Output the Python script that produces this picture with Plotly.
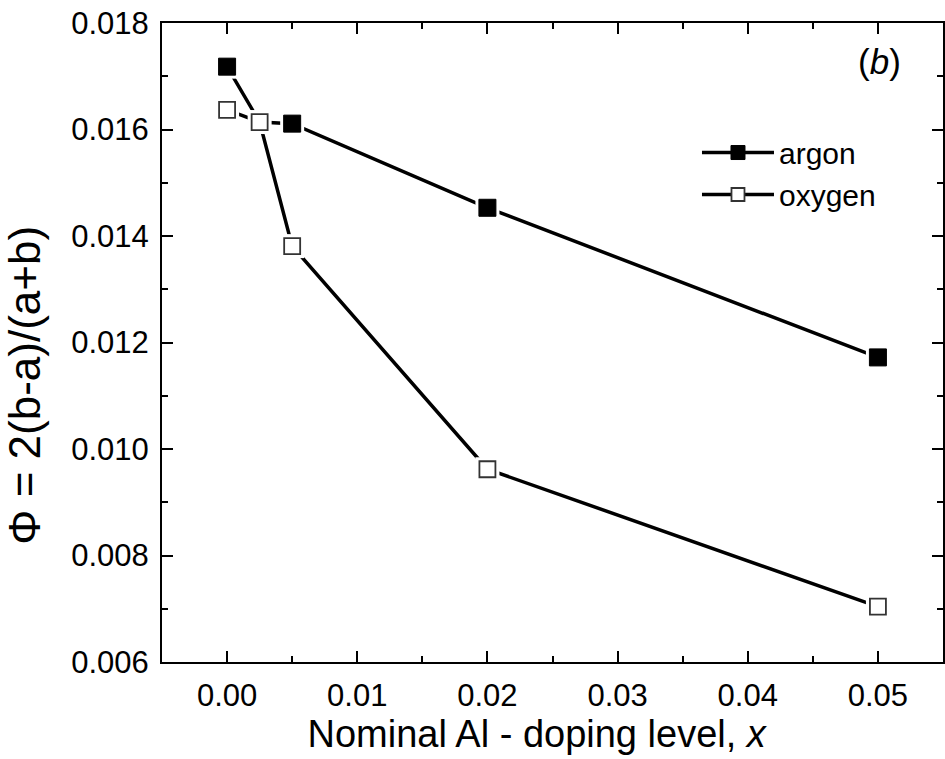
import plotly.graph_objects as go

# Data
x_argon = [0.0, 0.0025, 0.005, 0.02, 0.05]
y_argon = [0.01718, 0.01614, 0.01611, 0.01453, 0.01172]
x_oxygen = [0.0, 0.0025, 0.005, 0.02, 0.05]
y_oxygen = [0.01637, 0.01614, 0.01381, 0.00962, 0.00704]
# argon markers are shown only at its own measured points (0.0025 is hidden under oxygen)
argon_marker_idx = [0, 2, 3, 4]

x_ticks = [0.00, 0.01, 0.02, 0.03, 0.04, 0.05]
y_ticks = [0.006, 0.008, 0.010, 0.012, 0.014, 0.016, 0.018]

FONT = "Liberation Sans, Arial, sans-serif"
MS = 17
LW = 3.5
NB = "\u00a0"
ZW = "\u200b"

fig = go.Figure()

# connecting lines
fig.add_trace(go.Scatter(x=x_argon, y=y_argon, mode="lines",
                         line=dict(color="black", width=LW), showlegend=False, hoverinfo="skip"))
fig.add_trace(go.Scatter(x=x_oxygen, y=y_oxygen, mode="lines",
                         line=dict(color="black", width=LW), showlegend=False, hoverinfo="skip"))
# white halos to create Origin-style gaps between lines and markers
fig.add_trace(go.Scatter(x=[x_argon[i] for i in argon_marker_idx] + x_oxygen,
                         y=[y_argon[i] for i in argon_marker_idx] + y_oxygen,
                         mode="markers",
                         marker=dict(symbol="square", size=MS + 7, color="white", line=dict(width=0)),
                         showlegend=False, hoverinfo="skip"))
# markers
fig.add_trace(go.Scatter(x=[x_argon[i] for i in argon_marker_idx],
                         y=[y_argon[i] for i in argon_marker_idx],
                         mode="markers", name="argon",
                         marker=dict(symbol="square", size=MS, color="black",
                                     line=dict(color="black", width=1)),
                         showlegend=False))
fig.add_trace(go.Scatter(x=x_oxygen, y=y_oxygen, mode="markers", name="oxygen",
                         marker=dict(symbol="square", size=MS - 1, color="white",
                                     line=dict(color="#333333", width=1.8)),
                         showlegend=False))
# legend entries
fig.add_trace(go.Scatter(x=[None], y=[None], mode="lines+markers", name="argon",
                         line=dict(color="black", width=LW),
                         marker=dict(symbol="square", size=MS - 3, color="black",
                                     line=dict(color="black", width=1))))
fig.add_trace(go.Scatter(x=[None], y=[None], mode="lines+markers", name="oxygen",
                         line=dict(color="black", width=LW),
                         marker=dict(symbol="square", size=MS - 4, color="white",
                                     line=dict(color="#333333", width=1.8))))

axis_common = dict(
    showline=True, linecolor="black", linewidth=2, mirror="ticks",
    ticks="inside", ticklen=11, tickwidth=2, tickcolor="black",
    showgrid=False, zeroline=False,
    tickfont=dict(family=FONT, size=31, color="black"),
)

fig.update_xaxes(
    range=[-0.005, 0.055], tickvals=x_ticks, tickformat=".2f",
    minor=dict(ticks="inside", ticklen=6, tickwidth=2, tickcolor="black", dtick=0.005, tick0=0, showgrid=False),
    title=dict(text="Nominal Al - doping level, <i>x</i>" + NB * 3 + ZW,
               font=dict(family=FONT, size=38, color="black"), standoff=0),
    ticklabelstandoff=5,
    **axis_common,
)
fig.update_yaxes(
    range=[0.006, 0.018], tickvals=y_ticks, tickformat=".3f",
    minor=dict(ticks="inside", ticklen=6, tickwidth=2, tickcolor="black", dtick=0.001, tick0=0.006, showgrid=False),
    title=dict(text="Φ = 2(b-a)/(a+b)" + NB * 7 + ZW,
               font=dict(family=FONT, size=44, color="black"), standoff=17),
    ticklabelstandoff=5,
    **axis_common,
)

fig.add_annotation(x=0.949, y=0.939, xref="paper", yref="paper",
                   text="(<i>b</i>)", showarrow=False, xanchor="right", yanchor="middle",
                   font=dict(family=FONT, size=35, color="black"))

fig.update_layout(
    width=945, height=759,
    margin=dict(l=162, r=0, t=23, b=97),
    paper_bgcolor="white", plot_bgcolor="white",
    font=dict(family=FONT, color="black"),
    legend=dict(x=0.685, y=0.838, xanchor="left", yanchor="top",
                bgcolor="rgba(0,0,0,0)", borderwidth=0,
                font=dict(family=FONT, size=30, color="black"),
                itemwidth=72, tracegroupgap=0),
)

fig.write_html("out.html")
